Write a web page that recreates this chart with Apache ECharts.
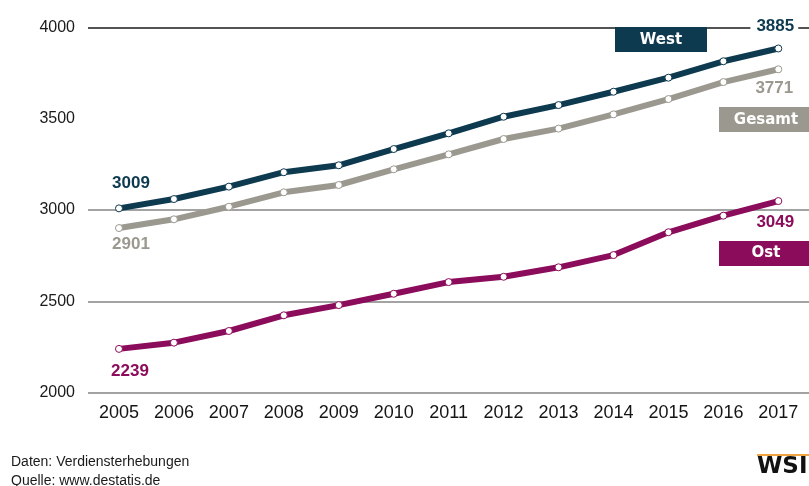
<!DOCTYPE html>
<html>
<head>
<meta charset="utf-8">
<script src="https://cdn.jsdelivr.net/npm/echarts@6/dist/echarts.min.js"></script>
<style>
html,body{margin:0;padding:0;background:#fff;}
#c{width:809px;height:486px;}
</style>
</head>
<body>
<div id="c"></div>
<script>
var years = ['2005','2006','2007','2008','2009','2010','2011','2012','2013','2014','2015','2016','2017'];
var west   = [3009, 3060, 3128, 3207, 3245, 3334, 3420, 3511, 3575, 3648, 3725, 3815, 3885];
var gesamt = [2901, 2949, 3018, 3097, 3137, 3223, 3305, 3389, 3446, 3524, 3608, 3701, 3771];
var ost    = [2239, 2273, 2337, 2423, 2479, 2541, 2605, 2634, 2686, 2753, 2878, 2969, 3049];
var yMin = 2000, yMax = 4000, yStep = 500;
var seriesNames = ['West', 'Gesamt', 'Ost'];
var footerLines = ['Daten: Verdiensterhebungen', 'Quelle: www.destatis.de'];

var SANS = '"Liberation Sans", Arial, sans-serif';
var C_WEST = '#0e3a50', C_GES = '#9b998f', C_OST = '#8c0c5c';

function buildData(vals, color, firstOff, lastOff, lastBg) {
  return vals.map(function (v, i) {
    var item = { value: v };
    if (i === 0 || i === vals.length - 1) {
      var lab = {
        show: true, position: 'inside', align: 'center', verticalAlign: 'middle',
        offset: i === 0 ? firstOff : lastOff,
        color: color, fontFamily: SANS, fontWeight: 'bold', fontSize: 17,
        formatter: String(v)
      };
      if (i === vals.length - 1 && lastBg) {
        lab.backgroundColor = '#fff';
        lab.padding = [2, 4, 2, 6];
      }
      item.label = lab;
    }
    return item;
  });
}

function lineSeries(name, vals, color, firstOff, lastOff, lastBg) {
  return {
    name: name, type: 'line', xAxisIndex: 1, yAxisIndex: 1,
    data: buildData(vals, color, firstOff, lastOff, lastBg),
    lineStyle: { color: color, width: 6 },
    symbol: 'circle', symbolSize: 7,
    itemStyle: { color: '#fff', borderColor: color, borderWidth: 1 },
    label: { show: false },
    emphasis: { disabled: true },
    animation: false, z: 3
  };
}

var chart = echarts.init(document.getElementById('c'), null, { renderer: 'canvas' });
chart.setOption({
  animation: false,
  grid: [
    { left: 88, right: 0, top: 27.5, bottom: 93.5 },
    { left: 91.5, right: 3.2, top: 27.5, bottom: 93.5 }
  ],
  xAxis: [
    { gridIndex: 0, type: 'category', data: years, show: false },
    {
      gridIndex: 1, type: 'category', data: years, boundaryGap: true,
      axisLine: { show: false }, axisTick: { show: false },
      axisLabel: { interval: 0, color: '#151515', fontFamily: SANS, fontSize: 18, margin: 12 }
    }
  ],
  yAxis: [
    {
      gridIndex: 0, type: 'value', min: yMin, max: yMax, interval: yStep,
      axisLine: { show: false }, axisTick: { show: false },
      axisLabel: { color: '#1a1a1a', fontFamily: SANS, fontSize: 16, margin: 13, padding: [0, 0, 6, 0],
        formatter: function (v) { return String(v); } },
      splitLine: { show: true, lineStyle: { width: 1.5, color: ['#858585', '#858585', '#858585', 'rgba(0,0,0,0)', '#1a1a1a'] } }
    },
    { gridIndex: 1, type: 'value', min: yMin, max: yMax, interval: yStep, show: false, splitLine: { show: false } }
  ],
  series: [
    lineSeries(seriesNames[1], gesamt, C_GES, [12, 16], [-4, 19], false),
    lineSeries(seriesNames[2], ost, C_OST, [11, 22], [-3, 21], false),
    lineSeries(seriesNames[0], west, C_WEST, [12, -25], [-4, -22], true)
  ],
  graphic: [
    { type: 'rect', shape: { x: 615, y: 27, width: 92, height: 25 }, style: { fill: C_WEST }, z: 10 },
    { type: 'text', x: 661, y: 40, style: { text: seriesNames[0], fill: '#fff', font: 'bold 15px "DejaVu Sans", sans-serif', align: 'center', verticalAlign: 'middle' }, z: 11 },
    { type: 'rect', shape: { x: 719, y: 107, width: 90, height: 25 }, style: { fill: C_GES }, z: 10 },
    { type: 'text', x: 766, y: 120, style: { text: seriesNames[1], fill: '#fff', font: 'bold 15px "DejaVu Sans", sans-serif', align: 'center', verticalAlign: 'middle' }, z: 11 },
    { type: 'rect', shape: { x: 719, y: 241, width: 90, height: 25 }, style: { fill: C_OST }, z: 10 },
    { type: 'text', x: 766, y: 253.5, style: { text: seriesNames[2], fill: '#fff', font: 'bold 15px "DejaVu Sans", sans-serif', align: 'center', verticalAlign: 'middle' }, z: 11 },
    { type: 'text', x: 11, y: 462, style: { text: footerLines[0], fill: '#1a1a1a', font: '14px "Liberation Sans", Arial, sans-serif', verticalAlign: 'middle' } },
    { type: 'text', x: 11, y: 481, style: { text: footerLines[1], fill: '#1a1a1a', font: '14px "Liberation Sans", Arial, sans-serif', verticalAlign: 'middle' } },
    { type: 'rect', shape: { x: 757, y: 454, width: 52, height: 2 }, style: { fill: '#f0a444' } },
    { type: 'text', x: 757, y: 467, style: { text: 'WSI', fill: '#111', font: 'bold 23px "DejaVu Sans", sans-serif', verticalAlign: 'middle' } }
  ]
});
</script>
</body>
</html>
